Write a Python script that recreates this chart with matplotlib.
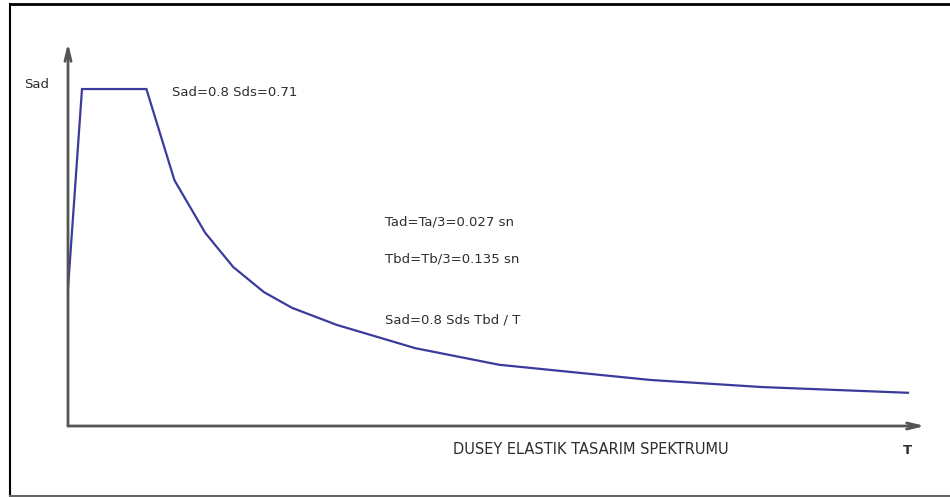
import numpy as np
import matplotlib.pyplot as plt
from matplotlib.lines import Line2D

# vertical elastic design spectrum (sketch values)
T = [0, 0.025, 0.14, 0.19, 0.245, 0.295, 0.35, 0.40, 0.48, 0.62, 0.77, 1.04, 1.24, 1.50]
Sad = [0.29, 0.71, 0.71, 0.518, 0.407, 0.335, 0.282, 0.249, 0.213, 0.164, 0.129, 0.097, 0.082, 0.070]

notes = ["Tad=Ta/3=0.027 sn", "Tbd=Tb/3=0.135 sn", "Sad=0.8 Sds Tbd / T"]
plateau_note = "Sad=0.8 Sds=0.71"
title = "DUSEY ELASTIK TASARIM SPEKTRUMU"

W, H = 950, 497
fig = plt.figure(figsize=(W / 100, H / 100), dpi=100)
fig.patch.set_facecolor("white")

# axes origin at pixel (68, 426), arrow tips at x=925 and y=43
x0, y0, x1, y1 = 68, 426, 925, 43
ax = fig.add_axes([x0 / W, 1 - y0 / H, (x1 - x0) / W, (y0 - y1) / H])
ax.set_xlim(0, (x1 - x0) / 560)
ax.set_ylim(0, (y0 - y1) / 474.6)
ax.axis("off")

ax.plot(T, Sad, color="#3b3b9c", lw=1.6, solid_joinstyle="miter", zorder=3)

axis_col = "#555555"
arrow = dict(arrowstyle="->,head_width=0.22,head_length=0.9", color=axis_col, lw=2,
             shrinkA=0, shrinkB=0)
ax.annotate("", xy=(1, 0), xytext=(0, 0), xycoords="axes fraction", arrowprops=arrow)
ax.annotate("", xy=(0, 1), xytext=(0, 0), xycoords="axes fraction", arrowprops=arrow)

tc = "#2e2e2e"
fs = 9.5
fam = ["DejaVu Sans Condensed", "DejaVu Sans"]
fig.text(24 / W, 1 - 84 / H, "Sad", fontsize=fs, color=tc, va="center", family=fam)
fig.text(172 / W, 1 - 92 / H, plateau_note, fontsize=fs, color=tc, va="center", family=fam)
for yy, s in zip([222, 259, 320], notes):
    fig.text(385 / W, 1 - yy / H, s, fontsize=fs, color=tc, va="center", family=fam)
fig.text(453 / W, 1 - 450 / H, title, fontsize=10.5, color=tc, va="center", family=fam)
fig.text(903 / W, 1 - 450 / H, "T", fontsize=fs, color=tc, va="center", family=fam,
         weight="bold")

# outer frame
fig.add_artist(Line2D([9.5 / W, 1], [1 - 4 / H, 1 - 4 / H], transform=fig.transFigure,
                      color="black", lw=2))
fig.add_artist(Line2D([9.5 / W, 9.5 / W], [1 - 4 / H, 1 - 496 / H], transform=fig.transFigure,
                      color="black", lw=1.5))
fig.add_artist(Line2D([9.5 / W, 1], [1 - 496 / H, 1 - 496 / H], transform=fig.transFigure,
                      color="#666666", lw=1.5))

fig.savefig("out.png", dpi=100)
